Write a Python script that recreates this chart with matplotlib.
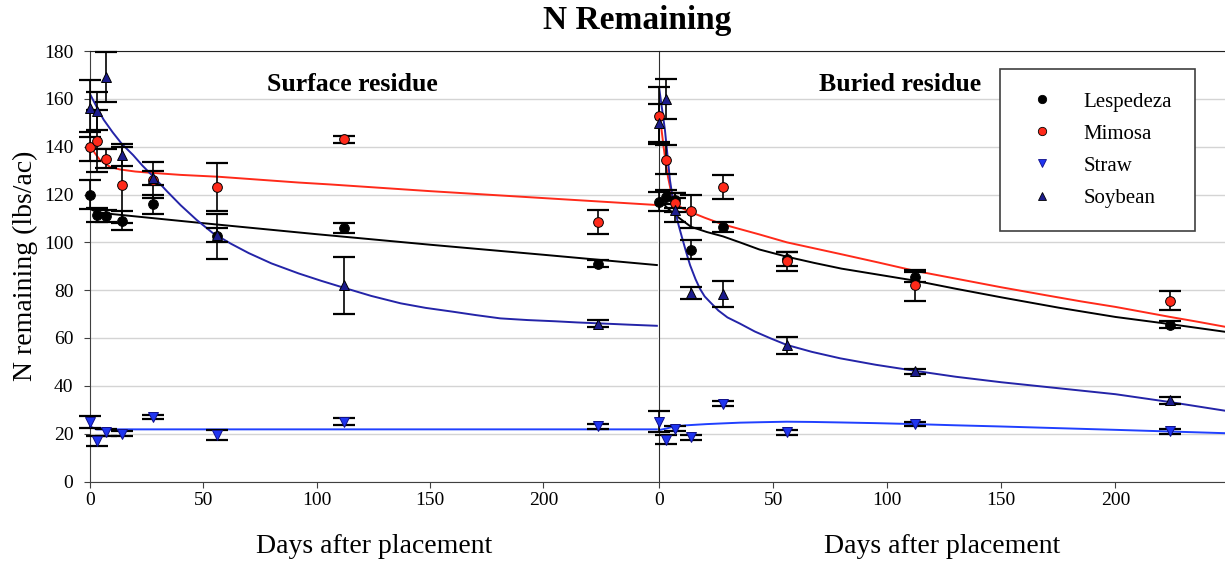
import numpy as np
import matplotlib
matplotlib.use('Agg')
import matplotlib.pyplot as plt
from matplotlib.lines import Line2D

plt.rcParams['font.family'] = ['Liberation Serif', 'DejaVu Serif']

# sampling days
days = [0, 3, 7, 14, 28, 56, 112, 224]

# surface residue, measured N remaining (lbs/ac) and error
surf_lesp = [120, 111.5, 111, 109, 116, 102.5, 106, 91]
surf_lesp_err = [6, 3, 2.5, 4, 4, 9.5, 2, 1.5]
surf_mimo = [140, 142.5, 135, 124, 126, 123, 143, 108.5]
surf_mimo_err = [6, 13, 4, 16, 7.5, 10, 1.5, 5]
surf_straw = [25, 17, 20.5, 20, 27, 19.5, 25, 23]
surf_straw_err = [2.5, 2, 1.5, 1, 1, 2, 1.5, 1]
surf_soy = [156, 155, 169, 136.5, 127, 103, 82, 66]
surf_soy_err = [12, 8, 10.5, 4.5, 3, 3, 12, 1.5]

# buried residue
bur_lesp = [117, 119, 117.5, 97, 106.5, 93, 85.5, 65.5]
bur_lesp_err = [4, 3, 3, 4, 2, 3, 2, 1.5]
bur_mimo = [153, 134.5, 116.5, 113, 123, 92, 82, 75.5]
bur_mimo_err = [12, 6, 4, 7, 5, 4, 6.5, 4]
bur_straw = [25, 17.5, 22, 18.5, 32.5, 20.5, 24, 21]
bur_straw_err = [4.5, 2, 1, 1, 1, 1, 1, 1]
bur_soy = [150, 160, 113.5, 79, 78.5, 57, 46, 34]
bur_soy_err = [8, 8.5, 5, 2.5, 5.5, 3.5, 1, 1.5]

# fitted curves
surf_lesp_fit_d = [0, 3, 10, 50, 100, 150, 200, 250]
surf_lesp_fit = [114, 112.6, 111.8, 108, 103.4, 99, 94.8, 90.5]
surf_mimo_fit_d = [0, 2, 4.4, 8.8, 13, 20, 26.5, 40, 57, 92, 106, 150, 200, 250]
surf_mimo_fit = [141, 137.5, 134.4, 131.6, 130.5, 129.6, 129.1, 128.2, 127.4, 125, 124.2, 121.4, 118.5, 115.6]
surf_soy_fit_d = [0, 3, 6, 10, 14, 19, 23, 28, 34, 40, 47, 54, 62, 70, 80, 92, 102, 112,
                  124, 137, 148, 160, 170, 181, 193, 205, 215, 225, 237, 250]
surf_soy_fit = [162, 156.5, 151.3, 146, 141.2, 136.5, 132.2, 127.4, 121.3, 115.5, 109.4, 104,
                99.5, 95.5, 91.2, 87, 83.9, 81, 77.6, 74.5, 72.6, 71, 69.6, 68.2, 67.5, 67,
                66.5, 66.1, 65.6, 65.1]
surf_straw_fit_d = [0, 3, 250]
surf_straw_fit = [23, 21.8, 21.8]

bur_lesp_fit_d = [0, 3, 7, 14, 21, 28, 36, 44, 56, 68, 80, 96, 112, 130, 150, 175, 200, 224, 248]
bur_lesp_fit = [119, 115, 111.5, 106.5, 104.3, 102.5, 99.8, 97, 94, 91.4, 89, 86.5, 84, 80.6,
                77, 72.7, 68.8, 65.8, 62.6]
bur_mimo_fit_d = [0, 1, 2, 3, 4, 5, 6, 8, 10, 14, 20, 28, 36, 44, 56, 68, 80, 96, 112, 133.5,
                  150, 170, 185, 200, 212, 224, 236, 248]
bur_mimo_fit = [155, 148, 140, 133, 127, 122.5, 119, 116, 114.3, 112.6, 110.3, 107.5, 105.4,
                103.3, 100, 97.5, 95, 91.6, 88.1, 84.2, 81.2, 77.8, 75.3, 73, 70.9, 68.8, 66.8, 64.7]
bur_soy_fit_d = [0, 1.3, 2.6, 3.7, 4.8, 6, 7, 8.5, 10, 12, 13.6, 16, 18, 20, 22.4, 26, 30,
                 35.5, 42, 49, 56, 67, 79.4, 95, 112, 130, 150, 175, 200, 224, 248]
bur_soy_fit = [165, 156, 147, 136.5, 126, 118.5, 113.5, 107.5, 102.3, 95.6, 90.5, 84.6, 80.5,
               77.4, 75, 71.5, 68.6, 66, 62.7, 59.8, 57.1, 54.2, 51.5, 48.8, 46.3, 43.8, 41.5,
               39, 36.5, 33.2, 29.6]
bur_straw_fit_d = [0, 3, 6.3, 12, 20.9, 28, 35.5, 45, 56, 67, 79, 95, 112, 130, 150, 175, 200, 224, 248]
bur_straw_fit = [21.5, 22.1, 22.9, 23.5, 24, 24.3, 24.6, 24.8, 25, 24.9, 24.7, 24.4, 24, 23.5,
                 23, 22.3, 21.6, 20.9, 20.2]

names = ['Lespedeza', 'Mimosa', 'Straw', 'Soybean']
marker = {'Lespedeza': 'o', 'Mimosa': 'o', 'Straw': 'v', 'Soybean': '^'}
face = {'Lespedeza': 'black', 'Mimosa': '#ff2a1a', 'Straw': '#1f35f0', 'Soybean': '#1c1c8c'}
linec = {'Lespedeza': 'black', 'Mimosa': '#ff2a1a', 'Straw': '#2040ff', 'Soybean': '#2424a8'}

fig = plt.figure(figsize=(12.25, 5.63), dpi=100)
W, H = 1225.0, 563.0
bot = 1 - 481.5 / H
hgt = (481.5 - 51) / H
axL = fig.add_axes([90 / W, bot, (658 - 90) / W, hgt])
axR = fig.add_axes([659 / W, bot, (1225 - 659) / W, hgt])

panels = [
    (axL, 'Surface residue', 78,
     [surf_lesp, surf_mimo, surf_straw, surf_soy],
     [surf_lesp_err, surf_mimo_err, surf_straw_err, surf_soy_err],
     [(surf_lesp_fit_d, surf_lesp_fit), (surf_mimo_fit_d, surf_mimo_fit),
      (surf_straw_fit_d, surf_straw_fit), (surf_soy_fit_d, surf_soy_fit)]),
    (axR, 'Buried residue', 70,
     [bur_lesp, bur_mimo, bur_straw, bur_soy],
     [bur_lesp_err, bur_mimo_err, bur_straw_err, bur_soy_err],
     [(bur_lesp_fit_d, bur_lesp_fit), (bur_mimo_fit_d, bur_mimo_fit),
      (bur_straw_fit_d, bur_straw_fit), (bur_soy_fit_d, bur_soy_fit)]),
]

for ax, label, lx, vals, errs, fits in panels:
    ax.set_ylim(0, 180)
    ax.set_yticks(range(0, 181, 20))
    ax.set_xticks([0, 50, 100, 150, 200])
    ax.yaxis.grid(True, color='#d4d4d4', linewidth=1)
    ax.set_axisbelow(True)
    for name, v, e, (fd, fv) in zip(names, vals, errs, fits):
        ax.plot(fd, fv, color=linec[name], lw=1.4, zorder=2)
        eb = ax.errorbar(days, v, yerr=e, fmt='none', ecolor='black', elinewidth=1.2,
                         capsize=8, capthick=1.6, zorder=3)
        for art in eb.lines[1] + eb.lines[2]:
            art.set_clip_on(False)
        ax.plot(days, v, ls='none', marker=marker[name], ms=7, mfc=face[name],
                mec='black' if name != 'Straw' else '#10108a', mew=0.7, zorder=4,
                clip_on=False)
    ax.text(lx, 166, label, fontsize=18.5, fontweight='bold', va='center', ha='left')
    ax.set_xlabel('Days after placement', fontsize=20, labelpad=18)
    ax.tick_params(axis='both', labelsize=14, direction='out', length=4, color='#404040')
    ax.tick_params(axis='y', pad=8)
    for s in ['left', 'bottom']:
        ax.spines[s].set_color('#404040')
    ax.spines['top'].set_color('#202020')
    ax.spines['right'].set_visible(False)

axL.set_xlim(0, 250.5)
axR.set_xlim(0, 248)
axR.tick_params(axis='y', left=False, labelleft=False)
axR.spines['left'].set_color('#303030')
axL.set_ylabel('N remaining (lbs/ac)', fontsize=20, labelpad=4)

handles = [Line2D([], [], ls='none', marker=marker[n], ms=6, mfc=face[n],
                  mec='black' if n != 'Straw' else '#10108a', mew=0.6) for n in names]
leg = axR.legend(handles, names, loc='upper left', bbox_to_anchor=(0.6025, 0.958),
                 fontsize=15, frameon=True, fancybox=False, framealpha=1,
                 edgecolor='#404040', borderpad=1.1, labelspacing=0.6,
                 handletextpad=1.1, borderaxespad=0, handlelength=1.8)
leg.get_frame().set_linewidth(1.2)

fig.text(637 / W, 1 - 21 / H, 'N Remaining', fontsize=24, fontweight='bold',
         ha='center', va='center')

fig.savefig('out.png', dpi=100)
